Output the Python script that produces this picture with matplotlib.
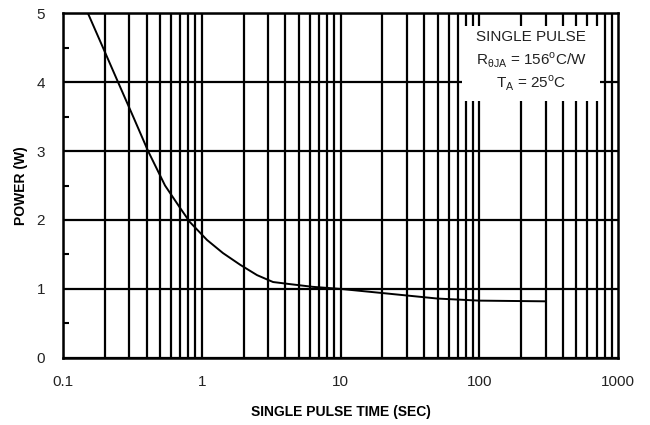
import numpy as np
import matplotlib.pyplot as plt
from matplotlib.patches import Rectangle

plt.rcParams['font.family'] = ['Liberation Sans', 'DejaVu Sans']
plt.rcParams['mathtext.fontset'] = 'custom'
plt.rcParams['mathtext.rm'] = 'Liberation Sans'

# curve
pulse_time = [0.151, 0.194, 0.249, 0.32, 0.41, 0.543, 0.70, 0.82, 1.09, 1.42, 1.89, 2.5,
              3.26, 4.3, 6.3, 10, 20, 50, 100, 300]
power = [5.0, 4.5, 4.0, 3.5, 3.0, 2.5, 2.17, 1.97, 1.71, 1.52, 1.35, 1.20,
         1.10, 1.07, 1.03, 1.0, 0.94, 0.86, 0.83, 0.82]

xticks = [0.1, 1, 10, 100, 1000]
xticklabels = ['0.1', '1', '10', '100', '1000']
yticks = [0, 1, 2, 3, 4, 5]

fig = plt.figure(figsize=(6.5, 4.25), dpi=100)
ax = fig.add_axes([0.097, 0.158, 0.854, 0.811])

ax.set_xscale('log')
ax.set_xlim(0.1, 1000)
ax.set_ylim(0, 5)

# vertical grid at every decade sub-division
for dec in [0.1, 1, 10, 100]:
    for m in range(1, 10):
        ax.axvline(dec * m, color='black', lw=1.6, zorder=1)
for y in yticks:
    ax.axhline(y, color='black', lw=1.6, zorder=1)

ax.plot(pulse_time, power, color='black', lw=1.4, zorder=3)

ax.set_xticks(xticks)
ax.set_xticklabels(xticklabels)
ax.set_xticks([], minor=True)
ax.set_yticks(yticks)
ax.set_yticks(np.arange(0.5, 5, 1), minor=True)
ax.tick_params(axis='both', which='major', length=0, labelsize=11)
ax.tick_params(axis='x', which='major', pad=12)
ax.tick_params(axis='y', which='major', pad=13)
ax.tick_params(axis='y', which='minor', direction='in', length=4, width=1.5)
for lab in ax.get_xticklabels() + ax.get_yticklabels():
    lab.set_color('#222222')

for s in ax.spines.values():
    s.set_linewidth(1.8)

ax.set_xlabel('SINGLE PULSE TIME (SEC)', fontsize=10, fontweight='bold', labelpad=12)
ax.set_ylabel('POWER (W)', fontsize=10, fontweight='bold', labelpad=6)

# white label patch in the top-right corner (no border)
box = Rectangle((0.719, 0.745), 0.249, 0.217, transform=ax.transAxes,
                facecolor='white', edgecolor='none', zorder=4)
ax.add_patch(box)
tx = 0.843
ax.text(tx, 0.930, 'SINGLE PULSE', transform=ax.transAxes, ha='center', va='center',
        fontsize=11, color='#222222', zorder=5)
ax.text(tx, 0.864, r'R$_{\mathrm{\theta JA}}$ = 156$^{\mathrm{o}}$C/W', transform=ax.transAxes,
        ha='center', va='center', fontsize=11, color='#222222', zorder=5)
ax.text(tx, 0.797, r'T$_{\mathrm{A}}$ = 25$^{\mathrm{o}}$C', transform=ax.transAxes,
        ha='center', va='center', fontsize=11, color='#222222', zorder=5)

plt.savefig('out.png', dpi=100)
